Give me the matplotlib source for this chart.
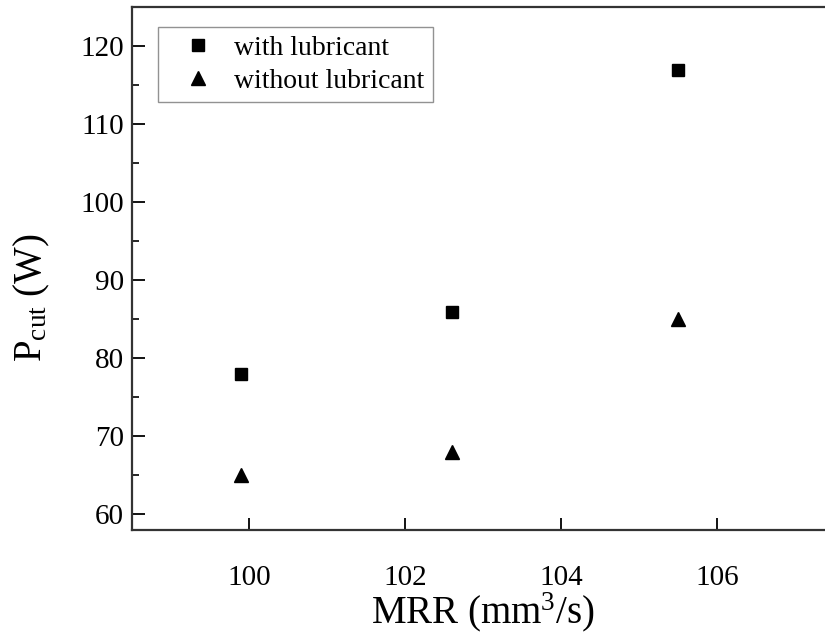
import matplotlib
matplotlib.use("Agg")
import matplotlib.pyplot as plt
from matplotlib.ticker import MultipleLocator

plt.rcParams['font.family'] = ['Liberation Serif', 'DejaVu Serif']
plt.rcParams['mathtext.fontset'] = 'custom'
plt.rcParams['mathtext.rm'] = 'Liberation Serif'
plt.rcParams['mathtext.it'] = 'Liberation Serif:italic'

mrr = [99.9, 102.6, 105.5]
p_with = [78, 86, 117]
p_without = [65, 68, 85]
labels = ["with lubricant", "without lubricant"]
x_ticks = [100, 102, 104, 106]
y_ticks = [60, 70, 80, 90, 100, 110, 120]

fig = plt.figure(figsize=(8.25, 6.36), dpi=100)
ax = fig.add_axes([132/825, 106/636, 702/825, 522.7/636])

ax.plot(mrr, p_with, linestyle='none', marker='s', color='black', markersize=8.5, label=labels[0])
ax.plot(mrr, p_without, linestyle='none', marker='^', color='black', markersize=10, label=labels[1])

ax.set_xlim(98.5, 107.5)
ax.set_ylim(58, 125)
ax.set_xticks(x_ticks)
ax.set_yticks(y_ticks)
ax.yaxis.set_minor_locator(MultipleLocator(5))

ax.tick_params(axis='both', which='major', direction='in', length=9, width=1.3, labelsize=21)
ax.tick_params(axis='x', which='major', pad=25)
ax.tick_params(axis='y', which='major', pad=6)
ax.tick_params(axis='y', which='minor', direction='in', length=5, width=1.2)
ax.tick_params(top=False, right=False)

for s in ax.spines.values():
    s.set_linewidth(1.6)
    s.set_color('#333333')

ax.set_xlabel(r"MRR (mm$^3$/s)", fontsize=28, labelpad=0)
ax.set_ylabel(r"P$_{\mathrm{cut}}$ (W)", fontsize=28, labelpad=20)
ax.yaxis.label.set_y(0.444)

leg = ax.legend(loc='upper left', bbox_to_anchor=(0.037, 0.962), fontsize=20,
                frameon=True, fancybox=False, edgecolor='#777777',
                handlelength=2.3, handletextpad=0.15, labelspacing=0.28,
                borderpad=0.3, borderaxespad=0.0)
leg.get_frame().set_linewidth(1.0)

fig.savefig("out.png", dpi=100)
